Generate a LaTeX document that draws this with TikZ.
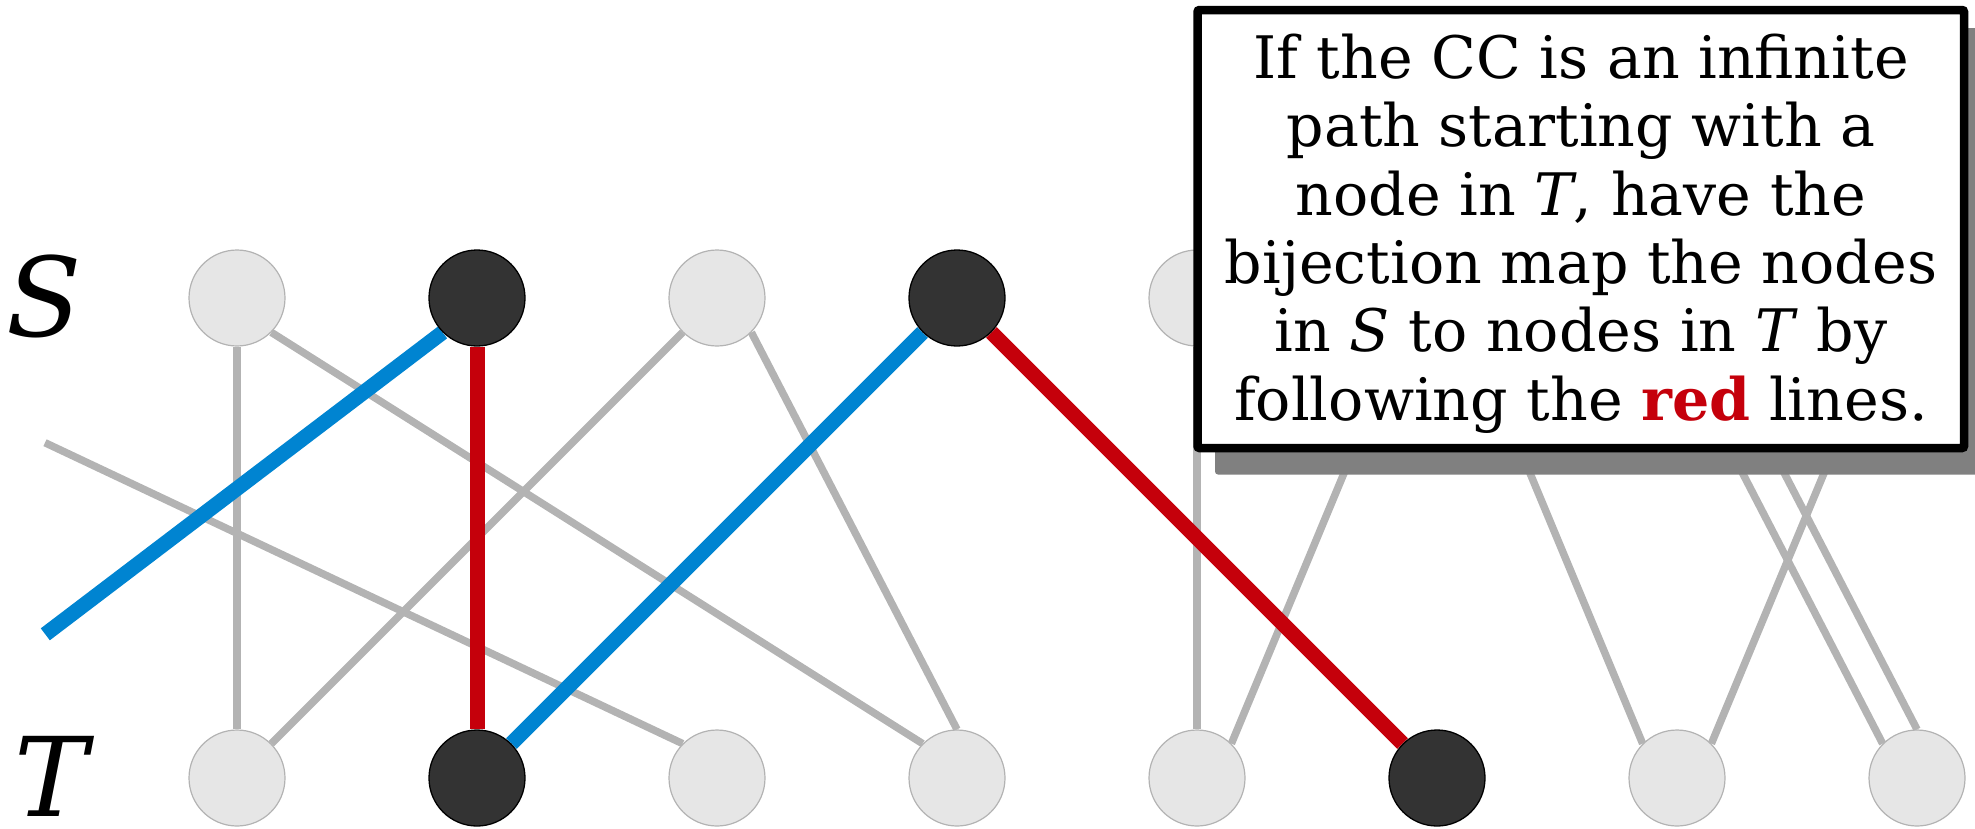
\documentclass[tikz,border=0pt]{standalone}
\usepackage{fontspec}
\setmainfont{DejaVu Serif}
\definecolor{edgegray}{HTML}{B3B3B3}
\definecolor{nodelight}{HTML}{E6E6E6}
\definecolor{nodedark}{HTML}{333333}
\definecolor{pathblue}{HTML}{0084D1}
\definecolor{pathred}{HTML}{C5000B}
\definecolor{shadowgray}{HTML}{808080}
\pgfdeclarelayer{edges}
\pgfsetlayers{edges,main}
\begin{document}
\begin{tikzpicture}[x=1pt,y=-1pt,
  lightnode/.style={circle, minimum size=96pt, inner sep=0pt, fill=nodelight, draw=edgegray, line width=1.2pt},
  darknode/.style={circle, minimum size=96pt, inner sep=0pt, fill=nodedark, draw=black, line width=1.3pt},
  grayedge/.style={draw=edgegray, line width=7.5pt},
  blueedge/.style={draw=pathblue, line width=15pt},
  rededge/.style={draw=pathred, line width=15pt},
  setlabel/.style={font=\fontsize{110}{110}\selectfont\itshape, inner sep=0pt},
  msgline/.style={anchor=base, inner sep=0pt, font=\fontsize{58.6}{68.5}\selectfont},
]
\useasboundingbox (0,0) rectangle (1975,828);

% labels
\node[setlabel] (labS) at (44,296) {S};
\node[setlabel] (labT) at (51,776) {T};

% S row
\node[lightnode] (S1) at (237,298) {};
\node[darknode]  (S2) at (477,298) {};
\node[lightnode] (S3) at (717,298) {};
\node[darknode]  (S4) at (957,298) {};
\node[lightnode] (S5) at (1197,298) {};
\node[lightnode] (S6) at (1437,298) {};
\node[lightnode] (S7) at (1677,298) {};
\node[lightnode] (S8) at (1917,298) {};
% T row
\node[lightnode] (T1) at (237,778) {};
\node[darknode]  (T2) at (477,778) {};
\node[lightnode] (T3) at (717,778) {};
\node[lightnode] (T4) at (957,778) {};
\node[lightnode] (T5) at (1197,778) {};
\node[darknode]  (T6) at (1437,778) {};
\node[lightnode] (T7) at (1677,778) {};
\node[lightnode] (T8) at (1917,778) {};

% free ends
\coordinate (g0) at (45,442.7);
\coordinate (b0) at (45.3,634.3);

\begin{pgfonlayer}{edges}
  \draw[grayedge] (S1.south) -- (T1.north);
  \draw[grayedge] (S1.south east) -- (T4.north west);
  \draw[grayedge] (S3.south west) -- (T1.north east);
  \draw[grayedge] (S3.south east) -- (T4.north);
  \draw[grayedge] (g0) -- (T3.north west);
  \draw[grayedge] (S5.south) -- (T5.north);
  \draw[grayedge] (S6.south west) -- (T5.north east);
  \draw[grayedge] (S6.south east) -- (T7.north west);
  \draw[grayedge] (S7.south) -- (T8.north west);
  \draw[grayedge] (S7.south east) -- (T8.north);
  \draw[grayedge] (S8.south west) -- (T7.north east);
  \draw[blueedge] (b0) -- (S2.south west);
  \draw[blueedge] (S4.south west) -- (T2.north east);
  \draw[rededge] (S2.south) -- (T2.north);
  \draw[rededge] (S4.south east) -- (T6.north west);
\end{pgfonlayer}

% callout box with shadow
\fill[shadowgray, rounded corners=3pt] (1215,28) rectangle (1995,474.5);
\draw[line width=8.5pt, fill=white, rounded corners=2pt] (1197.5,10) rectangle (1964,448);

\node[msgline] (l1) at (1581,78) {If the CC is an infinite};
\node[msgline] (l2) at (1581,146.7) {path starting with a};
\node[msgline] (l3) at (1581,215) {node in \textit{T}, have the};
\node[msgline] (l4) at (1581,283) {bijection map the nodes};
\node[msgline] (l5) at (1581,351.7) {in \textit{S} to nodes in \textit{T} by};
\node[msgline] (l6) at (1581,420.7) {following the \textcolor{pathred}{\textbf{red}} lines.};
\end{tikzpicture}
\end{document}
